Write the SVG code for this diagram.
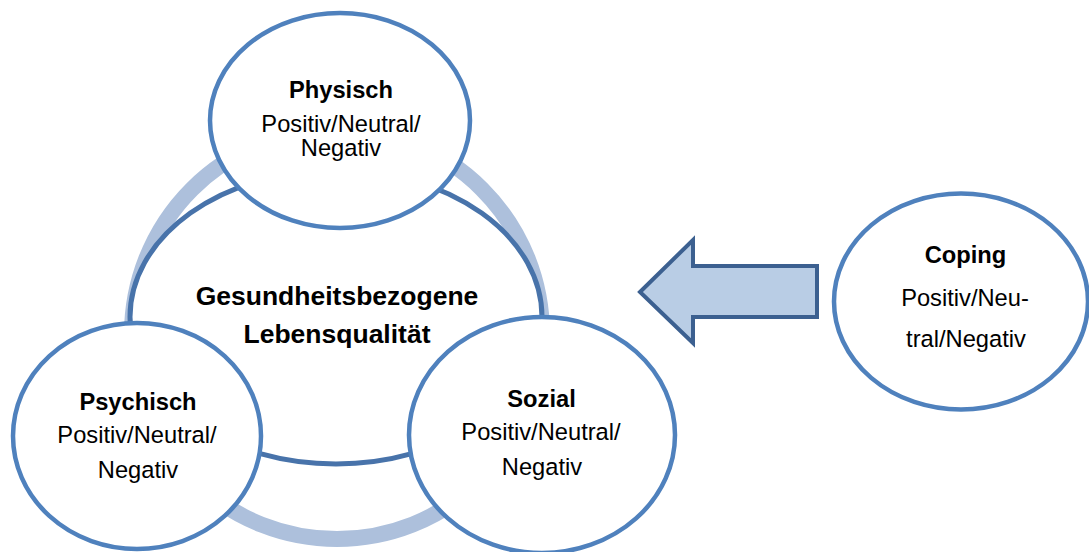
<svg xmlns="http://www.w3.org/2000/svg" width="1089" height="552" viewBox="0 0 1089 552">
<style>
.node{fill:#fff;stroke:#4f81bd;stroke-width:4.5}
.center{fill:#fff;stroke:#4873aa;stroke-width:5}
.ring{fill:none;stroke:#adc0dc;stroke-width:16}
.arrow{fill:#b9cde5;stroke:#3c6090;stroke-width:4;stroke-linejoin:miter}
text{font-family:"Liberation Sans",Arial,sans-serif;font-size:23.7px;fill:#000;text-anchor:middle}
.b{font-weight:bold}
.c{font-size:26.5px}
</style>
<rect width="1089" height="552" fill="#fff"/>
<g id="ring"><circle class="ring" cx="337" cy="334" r="205"/></g>
<g id="center">
<ellipse class="center" cx="336" cy="317" rx="206" ry="147"/>
<text class="b c" x="337" y="305">Gesundheitsbezogene</text>
<text class="b c" x="337" y="343">Lebensqualität</text>
</g>
<g id="physisch">
<ellipse class="node" cx="340" cy="120.5" rx="130" ry="107.5"/>
<text class="b" x="341" y="98">Physisch</text>
<text x="341" y="132">Positiv/Neutral/</text>
<text x="341" y="156">Negativ</text>
</g>
<g id="psychisch">
<ellipse class="node" cx="137" cy="436" rx="124" ry="113"/>
<text class="b" x="138" y="410">Psychisch</text>
<text x="137" y="443">Positiv/Neutral/</text>
<text x="138" y="478">Negativ</text>
</g>
<g id="sozial">
<ellipse class="node" cx="542" cy="435" rx="133" ry="118"/>
<text class="b" x="541.5" y="407">Sozial</text>
<text x="541" y="440">Positiv/Neutral/</text>
<text x="542" y="475">Negativ</text>
</g>
<g id="connectors">
<polygon class="arrow" points="640,292 693,240 693,266 817,266 817,317 693,317 693,343"/>
</g>
<g id="coping">
<ellipse class="node" cx="961" cy="301.5" rx="127" ry="108"/>
<text class="b" x="965.5" y="263">Coping</text>
<text x="965" y="306">Positiv/Neu-</text>
<text x="966" y="347">tral/Negativ</text>
</g>
</svg>
